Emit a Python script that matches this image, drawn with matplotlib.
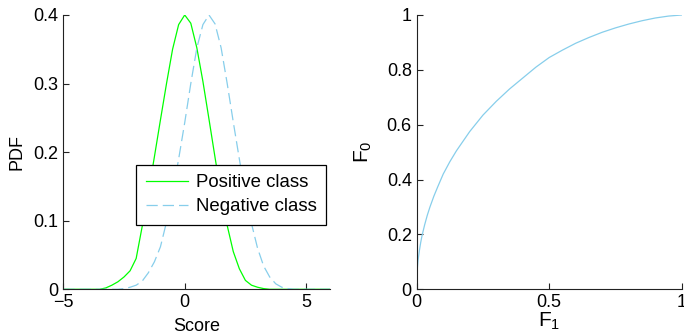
import matplotlib
matplotlib.use("Agg")
import matplotlib.pyplot as plt

plt.rcParams['font.family'] = ['Liberation Sans', 'DejaVu Sans']
plt.rcParams['mathtext.default'] = 'regular'

# score density of the positive class
pos_x = [-5, -3.5, -3.25, -3.0, -2.75, -2.5, -2.25, -2.0, -1.75, -1.5, -1.25, -1.0, -0.75, -0.5, -0.25,
         0.0, 0.25, 0.5, 0.75, 1.0, 1.25, 1.5, 1.75, 2.0, 2.25, 2.5, 2.75, 3.0, 3.25, 3.5, 6]
pos_y = [0, 0, 0.002, 0.006, 0.011, 0.018, 0.027, 0.045, 0.092, 0.140, 0.193, 0.247, 0.300, 0.350, 0.386,
         0.400, 0.388, 0.352, 0.303, 0.248, 0.192, 0.138, 0.093, 0.055, 0.030, 0.013, 0.006, 0.003, 0.001, 0, 0]

# score density of the negative class
neg_x = [-5, -2.75, -2.5, -2.25, -2.0, -1.75, -1.5, -1.25, -1.0, -0.75, -0.5, -0.25, 0.0, 0.25, 0.5, 0.75,
         1.0, 1.25, 1.5, 1.75, 2.0, 2.25, 2.5, 2.75, 3.0, 3.25, 3.5, 3.75, 4.0, 4.25, 4.5, 6]
neg_y = [0, 0, 0.001, 0.003, 0.006, 0.012, 0.024, 0.040, 0.062, 0.098, 0.140, 0.190, 0.243, 0.300, 0.352, 0.386,
         0.400, 0.387, 0.352, 0.300, 0.244, 0.190, 0.138, 0.096, 0.060, 0.034, 0.018, 0.008, 0.003, 0.001, 0, 0]

# F0 against F1
f1 = [0, 0.0005, 0.002, 0.005, 0.01, 0.015, 0.02, 0.03, 0.04, 0.05, 0.065, 0.08, 0.1, 0.125, 0.15, 0.175,
      0.2, 0.25, 0.3, 0.35, 0.4, 0.45, 0.5, 0.55, 0.6, 0.65, 0.7, 0.75, 0.8, 0.85, 0.9, 0.95, 1.0]
f0 = [0, 0.04, 0.07, 0.105, 0.14, 0.17, 0.195, 0.235, 0.27, 0.30, 0.34, 0.375, 0.42, 0.465, 0.505, 0.54,
      0.575, 0.635, 0.685, 0.73, 0.77, 0.81, 0.845, 0.872, 0.897, 0.918, 0.937, 0.953, 0.967, 0.979, 0.989,
      0.996, 1.0]

GREEN = '#00ff00'
BLUE = '#87ceeb'
FS = 13

fig = plt.figure(figsize=(6.84, 3.36), dpi=100)
ax1 = fig.add_axes([0.0926, 0.139, 0.3904, 0.8164])
ax2 = fig.add_axes([0.6092, 0.139, 0.3875, 0.8164])

for ax in (ax1, ax2):
    for side in ('top', 'right'):
        ax.spines[side].set_visible(False)
    for side in ('left', 'bottom'):
        ax.spines[side].set_linewidth(0.8)
        ax.spines[side].set_color('#222222')
    ax.tick_params(direction='in', length=4, width=0.8, labelsize=FS, pad=3.5, colors='#222222',
                   labelcolor='black')

ax1.plot(pos_x, pos_y, color=GREEN, lw=0.9, label='Positive class')
ax1.plot(neg_x, neg_y, color=BLUE, lw=0.9, dashes=(9, 4), label='Negative class')
ax1.set_xlim(-5, 6)
ax1.set_ylim(0, 0.4)
ax1.set_xticks([-5, 0, 5])
ax1.set_xticklabels(['\u22125', '0', '5'])
ax1.set_yticks([0, 0.1, 0.2, 0.3, 0.4])
ax1.set_yticklabels(['0', '0.1', '0.2', '0.3', '0.4'])
ax1.set_xlabel('Score', fontsize=FS, labelpad=5)
ax1.set_ylabel('PDF', fontsize=FS, labelpad=6)
leg = ax1.legend(loc='upper left', bbox_to_anchor=(0.273, 0.453), borderaxespad=0, fontsize=13.4,
                 fancybox=False, framealpha=1, edgecolor='black', handlelength=2.3,
                 labelspacing=0.38, borderpad=0.5, handletextpad=0.4)
leg.get_frame().set_linewidth(0.9)

ax2.plot(f1, f0, color=BLUE, lw=0.9)
ax2.set_xlim(0, 1)
ax2.set_ylim(0, 1)
ax2.set_xticks([0, 0.5, 1])
ax2.set_xticklabels(['0', '0.5', '1'])
ax2.set_yticks([0, 0.2, 0.4, 0.6, 0.8, 1])
ax2.set_yticklabels(['0', '0.2', '0.4', '0.6', '0.8', '1'])
ax2.set_xlabel('F$_1$', fontsize=FS + 2, labelpad=0)
ax2.set_ylabel('F$_0$', fontsize=FS + 2, labelpad=9)

fig.savefig('out.png', dpi=100)
